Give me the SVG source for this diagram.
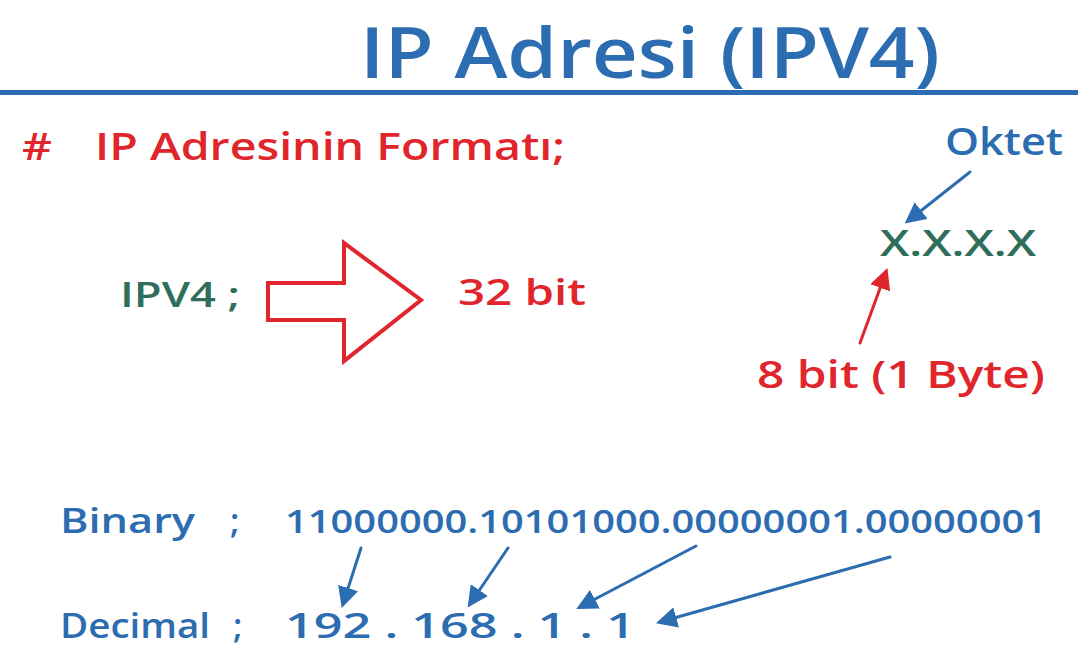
<svg xmlns="http://www.w3.org/2000/svg" width="1078" height="659" viewBox="0 0 1078 659">
  <style>
    text { font-family: "Open Sans", "Liberation Sans", sans-serif; font-weight: 600; }
    .blue { fill: #2c6cb0; }
    .red { fill: #e0262c; }
    .green { fill: #2f6e5c; }
    .con-blue { stroke: #2c6cb0; stroke-width: 3; fill: none; stroke-linecap: round; }
    .con-red { stroke: #e0262c; stroke-width: 3; fill: none; stroke-linecap: round; }
  </style>
  <defs>
    <marker id="head-blue" viewBox="0 0 10 10" refX="8" refY="5" markerWidth="7" markerHeight="7" orient="auto" markerUnits="strokeWidth">
      <path d="M0,0 L10,5 L0,10 z" fill="#2c6cb0"/>
    </marker>
    <marker id="head-red" viewBox="0 0 10 10" refX="8" refY="5" markerWidth="7" markerHeight="7" orient="auto" markerUnits="strokeWidth">
      <path d="M0,0 L10,5 L0,10 z" fill="#e0262c"/>
    </marker>
  </defs>
  <rect width="1078" height="659" fill="#ffffff"/>

  <g id="title">
    <text class="blue" x="360" y="78" font-size="70" font-weight="400" textLength="580" lengthAdjust="spacingAndGlyphs">IP Adresi (IPV4)</text>
    <rect x="0" y="90" width="1078" height="5" fill="#2c6cb0"/>
  </g>

  <g id="heading">
    <text class="red" x="22" y="160" font-size="38" font-weight="400" textLength="30" lengthAdjust="spacingAndGlyphs">#</text>
    <text class="red" x="95" y="160" font-size="38" font-weight="400" textLength="470" lengthAdjust="spacingAndGlyphs">IP Adresinin Formatı;</text>
  </g>

  <g id="ipv4-label">
    <text class="green" x="120" y="307" font-size="34" textLength="120" lengthAdjust="spacingAndGlyphs">IPV4 ;</text>
  </g>

  <g id="big-arrow">
    <path d="M268,283 L344,283 L344,243 L421,300 L344,361 L344,320 L268,320 Z" fill="none" stroke="#e0262c" stroke-width="4" stroke-linejoin="miter"/>
  </g>

  <g id="bits-32">
    <text class="red" x="458" y="305" font-size="36" textLength="128" lengthAdjust="spacingAndGlyphs">32 bit</text>
  </g>

  <g id="oktet">
    <text class="blue" x="945" y="155" font-size="38" textLength="118" lengthAdjust="spacingAndGlyphs">Oktet</text>
  </g>

  <g id="octets">
    <text class="green" x="880" y="256" font-size="36" font-weight="400" textLength="156" lengthAdjust="spacingAndGlyphs">X.X.X.X</text>
  </g>

  <g id="byte-label">
    <text class="red" x="757" y="388" font-size="38" textLength="288" lengthAdjust="spacingAndGlyphs">8 bit (1 Byte)</text>
  </g>

  <g id="binary">
    <text class="blue" x="60" y="533" font-size="34" textLength="135" lengthAdjust="spacingAndGlyphs">Binary</text>
    <text class="blue" x="230" y="533" font-size="34">;</text>
    <text class="blue" x="285" y="533" font-size="32" font-weight="700" textLength="762" lengthAdjust="spacingAndGlyphs">11000000.10101000.00000001.00000001</text>
  </g>

  <g id="decimal">
    <text class="blue" x="60" y="638" font-size="34" textLength="150" lengthAdjust="spacingAndGlyphs">Decimal</text>
    <text class="blue" x="233" y="638" font-size="34">;</text>
    <text class="blue" x="285" y="638" font-size="34" font-weight="700" textLength="350" lengthAdjust="spacingAndGlyphs">192 . 168 . 1 . 1</text>
  </g>

  <g id="connectors">
    <line class="con-blue" x1="970" y1="172" x2="908" y2="221" marker-end="url(#head-blue)"/>
    <line class="con-red" x1="860" y1="343" x2="886" y2="272" marker-end="url(#head-red)"/>
    <line class="con-blue" x1="361" y1="548" x2="343" y2="604" marker-end="url(#head-blue)"/>
    <line class="con-blue" x1="508" y1="548" x2="470" y2="604" marker-end="url(#head-blue)"/>
    <line class="con-blue" x1="696" y1="546" x2="580" y2="607" marker-end="url(#head-blue)"/>
    <line class="con-blue" x1="890" y1="557" x2="660" y2="622" marker-end="url(#head-blue)"/>
  </g>
</svg>
